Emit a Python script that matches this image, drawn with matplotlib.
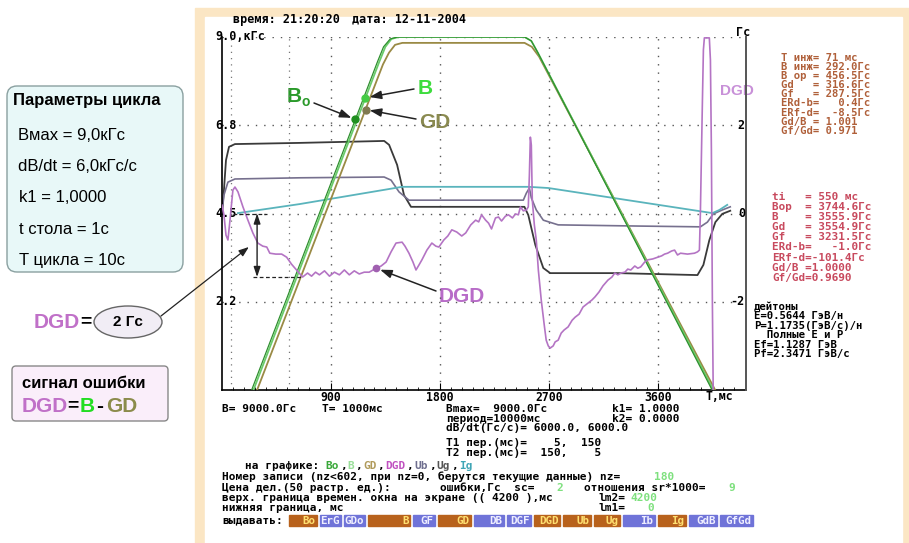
import numpy as np
import matplotlib
matplotlib.use("Agg")
from matplotlib import pyplot as plt
from matplotlib import transforms
from matplotlib.patches import Rectangle, FancyBboxPatch, Ellipse

# ---- field curves: t in ms, field in kGs
t_b = [260, 1300, 1350, 1400, 1460, 2500, 2556, 2610, 4060]
b_b = [0, 8.37, 8.75, 8.95, 9.0, 9.0, 8.9, 8.6, 0]
t_bo = [245, 1285, 1335, 1390, 1450, 2500, 2556, 2610, 4050]
b_bo = [0, 8.37, 8.75, 8.95, 9.0, 9.0, 8.9, 8.6, 0]
t_gd = [290, 1330, 1380, 1430, 1490, 2500, 2560, 2620, 4075]
b_gd = [0, 8.3, 8.6, 8.8, 8.85, 8.85, 8.75, 8.5, 0]

# ---- auxiliary signals drawn on the kGs scale
t_ub = [0, 16, 33, 58, 107, 641, 1340, 1381, 1447, 1504, 1562, 2121, 2499, 2531,
        2589, 2655, 2712, 3271, 3929, 3978, 4027, 4077, 4134, 4200]
ub = [4.51, 5.10, 5.86, 6.20, 6.27, 6.30, 6.35, 6.25, 5.74, 4.97, 4.67, 4.67, 4.67, 4.46,
      3.70, 3.11, 2.98, 2.98, 2.93, 3.19, 3.82, 4.28, 4.49, 4.57]
t_ug = [0, 16, 49, 107, 641, 1340, 1397, 1463, 1545, 2121, 2490, 2515, 2540, 2556,
        2597, 2655, 2778, 3436, 3953, 4011, 4060, 4134, 4200]
ug = [4.51, 4.97, 5.30, 5.38, 5.41, 5.43, 5.35, 5.05, 4.84, 4.84, 4.84, 5.02, 5.15, 4.90,
      4.59, 4.33, 4.21, 4.18, 4.16, 4.28, 4.49, 4.59, 4.67]
t_ig = [132, 641, 1488, 2532, 2696, 4052, 4110, 4175]
ig = [4.51, 4.74, 5.18, 5.18, 5.15, 4.51, 4.59, 4.72]

# ---- error signal DGD = B - GD, Gs (right scale)
t_dgd = [0, 16, 33, 49, 66, 90, 107, 132, 173, 214, 255, 296, 337, 370, 395, 444, 493, 534,
         575, 616, 666, 707, 740, 773, 805, 847, 888, 929, 970, 1011, 1052, 1093, 1134, 1175,
         1216, 1274, 1315, 1356, 1397, 1438, 1488, 1512, 1545, 1578, 1603, 1627, 1652, 1693,
         1734, 1767, 1792, 1833, 1866, 1899, 1940, 1981, 2014, 2055, 2096, 2121, 2145, 2178,
         2203, 2227, 2260, 2285, 2310, 2342, 2367, 2400, 2425, 2449, 2466, 2490, 2515, 2531,
         2540, 2548, 2556, 2564, 2581, 2597, 2614, 2638, 2663, 2679, 2696, 2712, 2737, 2753,
         2778, 2803, 2827, 2860, 2893, 2918, 2951, 2983, 3025, 3057, 3082, 3115, 3148, 3189,
         3222, 3246, 3271, 3296, 3329, 3353, 3378, 3411, 3436, 3460, 3493, 3518, 3559, 3600,
         3633, 3657, 3682, 3715, 3740, 3764, 3789, 3847, 3904, 3929, 3945, 3953, 3962, 3970,
         3978, 3986, 4027, 4036, 4044, 4052, 4060]
dgd = [0.19, -0.03, -0.49, -0.60, -0.15, 0.53, 0.60, 0.49, 0.15, -0.15, -0.44, -0.67, -0.74,
       -0.76, -0.90, -0.92, -0.92, -0.99, -1.15, -1.28, -1.44, -1.35, -1.42, -1.33, -1.39,
       -1.30, -1.42, -1.33, -1.39, -1.28, -1.39, -1.30, -1.37, -1.33, -1.33, -1.24, -1.19,
       -1.10, -0.87, -0.67, -0.65, -0.74, -0.90, -1.10, -1.28, -1.17, -1.05, -0.83, -0.67,
       -0.74, -0.76, -0.60, -0.51, -0.37, -0.42, -0.51, -0.44, -0.26, -0.15, -0.19, -0.03,
       -0.15, -0.22, -0.35, -0.10, -0.08, -0.17, -0.06, -0.03, -0.10, -0.01, -0.03, 0.15,
       0.06, 0.08, 0.15, 0.87, 1.73, 1.55, 0.31, -0.26, -0.60, -1.28, -1.96, -2.53, -2.87,
       -3.00, -3.05, -3.00, -2.91, -2.87, -2.71, -2.64, -2.57, -2.42, -2.35, -2.28, -2.12,
       -2.03, -1.96, -1.89, -1.78, -1.64, -1.51, -1.44, -1.35, -1.39, -1.35, -1.33, -1.26,
       -1.28, -1.19, -1.24, -1.21, -1.10, -1.05, -1.03, -0.99, -0.96, -0.92, -0.90, -0.85,
       -0.83, -0.94, -0.90, -0.92, -0.90, -0.87, -0.83, 0.01, 1.44, 2.57, 3.71, 3.98, 3.98,
       3.48, 1.44, -1.96, -4.3]

# marker levels on the rising edge
bo_level, b_level, gd_level = 6.9, 7.45, 7.15
dgd_mark_t = 1274

x_ticks = [900, 1800, 2700, 3600]
x_ticklabels = ["900", "1800", "2700", "3600"]
left_labels = ["2.2", "4.5", "6.8", "9.0,кГс"]
left_levels = [2.25, 4.5, 6.75, 9.0]
right_labels = ["-2", "0", "2"]
right_levels = [-2, 0, 2]

panel1 = ["T инж= 71 мс", "B инж= 292.0Гс", "B ор = 456.5Гс", "Gd   = 316.6Гс",
          "Gf   = 287.5Гс", "ERd-b=   0.4Гс", "ERf-d=  -8.5Гс", "Gd/B = 1.001", "Gf/Gd= 0.971"]
panel2 = ["ti   = 550 мс", "Bop  = 3744.6Гс", "B    = 3555.9Гс", "Gd   = 3554.9Гс",
          "Gf   = 3231.5Гс", "ERd-b=   -1.0Гс", "ERf-d=-101.4Гс", "Gd/B =1.0000", "Gf/Gd=0.9690"]
panel3 = ["дейтоны", "E=0.5644 ГэВ/н", "P=1.1735(ГэВ/с)/н", "  Полные E и P",
          "Ef=1.1287 ГэВ", "Pf=2.3471 ГэВ/с"]
cycle_params = ["Вмах = 9,0кГс", "dB/dt = 6,0кГс/с", "k1 = 1,0000", "t стола = 1с", "T цикла = 10с"]

on_graph = [("Bo", "#3aa83a"), ("B", "#9adf9a"), ("GD", "#b09a5a"), ("DGD", "#c050c0"),
            ("Ub", "#6f6f8f"), ("Ug", "#555555"), ("Ig", "#3fa5b5")]
buttons = ["Bo", "ErG", "GDo", "B", "GF", "GD", "DB", "DGF", "DGD", "Ub", "Ug", "Ib", "Ig", "GdB", "GfGd"]
button_kind = ["o", "b", "b", "o", "b", "o", "b", "b", "o", "o", "o", "b", "o", "b", "b"]
button_w = [28, 21, 21, 42, 22, 33, 30, 24, 26, 28, 26, 32, 28, 28, 33]

MONO = "DejaVu Sans Mono"
SANS = ["Liberation Sans", "DejaVu Sans"]
FS = 8.0

fig = plt.figure(figsize=(9.09, 5.43), dpi=100)
renderer = fig.canvas.get_renderer()
bg = fig.add_axes([0, 0, 1, 1])
bg.set_xlim(0, 909)
bg.set_ylim(543, 0)
bg.axis("off")

bg.add_patch(Rectangle((195, 8), 714, 535, color="#fbe6c4", zorder=0))
bg.add_patch(Rectangle((205, 17), 697, 526, color="white", zorder=0))


def dos(x, y, s, color="black", size=FS):
    return bg.text(x, y, s, color=color, fontsize=size, family=MONO, fontweight="bold",
                   va="center", ha="left")


def dos_seq(x, y, parts, gap=1.0):
    # place coloured pieces one after another, using the drawn width of each piece
    for s, c, pre in parts:
        t = dos(x + pre, y, s, c)
        bb = t.get_window_extent(renderer)
        x = bg.transData.inverted().transform((bb.x1, bb.y0))[0] + gap


# ---- main plot
ax = fig.add_axes([222 / 909, 1 - 390 / 543, 524 / 909, 353 / 543])
ax.set_xlim(0, 4330)
ax.set_ylim(0, 9)
ax.patch.set_alpha(0)
ax2 = ax.twinx()
ax2.set_ylim(-4, 4)

for s in ["top", "right"]:
    ax.spines[s].set_visible(False)
for s in ["top", "left", "bottom"]:
    ax2.spines[s].set_visible(False)
ax2.spines["right"].set_color("#555555")
ax2.spines["right"].set_linewidth(1.4)
ax.spines["left"].set_linewidth(1.2)
ax.spines["bottom"].set_linewidth(1.2)

ax.set_yticks([])
ax2.set_yticks([])
ax.set_xticks(x_ticks)
ax.set_xticklabels(x_ticklabels, family=MONO, fontweight="bold", fontsize=8.3)
ax.set_xticks(np.arange(90, 4330, 90), minor=True)
ax.tick_params(axis="x", which="major", direction="in", length=5, pad=0.5)
ax.tick_params(axis="x", which="minor", direction="in", length=2.5)

dots = (0, (1, 5))
for g in left_levels:
    ax.axhline(g, color="#555555", lw=1, ls=dots, zorder=1)
for g in x_ticks:
    ax.axvline(g, color="#555555", lw=1, ls=dots, zorder=1)
for g in [71, 550]:
    ax.axvline(g, color="#777777", lw=0.9, ls=(0, (1, 4)), zorder=1)

ax.plot(t_ub, ub, color="#3a3a3a", lw=1.3, zorder=2)
ax.plot(t_ug, ug, color="#76708e", lw=1.2, zorder=2)
ax.plot(t_ig, ig, color="#5ab4bc", lw=1.3, zorder=2)
ax.plot(t_gd, b_gd, color="#9a8a45", lw=1.3, zorder=3)
ax.plot(t_b, b_b, color="#6acc6a", lw=1.3, zorder=3)
ax.plot(t_bo, b_bo, color="#2f8f2f", lw=0.9, zorder=3)
ax2.plot(t_dgd, dgd, color="#b474c4", lw=1.2, zorder=3)

# markers on the curves
x_bo = np.interp(bo_level, b_bo[:4], t_bo[:4])
x_b = np.interp(b_level, b_b[:4], t_b[:4])
x_gd = np.interp(gd_level, b_gd[:4], t_gd[:4])
y_dm = np.interp(dgd_mark_t, t_dgd, dgd)
ax.plot([x_bo], [bo_level], "o", ms=5, color="#1f8f1f", zorder=5)
ax.plot([x_b], [b_level], "o", ms=5, color="#44cc44", zorder=5)
ax.plot([x_gd], [gd_level], "o", ms=5, color="#807a50", zorder=5)
ax2.plot([dgd_mark_t], [y_dm], "o", ms=4.5, color="#a060b0", zorder=5)

arrow = dict(arrowstyle="-|>,head_length=0.7,head_width=0.25", color="#222222", lw=1.1,
             shrinkA=0, shrinkB=3)
ax.annotate("", xy=(x_bo, bo_level), xytext=(314, 103), textcoords=bg.transData, arrowprops=arrow)
ax.annotate("", xy=(x_b, b_level), xytext=(414, 89), textcoords=bg.transData, arrowprops=arrow)
ax.annotate("", xy=(x_gd, gd_level), xytext=(416, 119), textcoords=bg.transData, arrowprops=arrow)
ax2.annotate("", xy=(dgd_mark_t, y_dm), xytext=(436, 291), textcoords=bg.transData, arrowprops=arrow)

bg.text(287, 96, "B", color="#2a9a2a", fontsize=15, family=SANS, fontweight="bold", va="center")
bg.text(302, 102, "o", color="#2a9a2a", fontsize=10, family=SANS, fontweight="bold", va="center")
bg.text(418, 88, "B", color="#3ddc3d", fontsize=15, family=SANS, fontweight="bold", va="center")
bg.text(419, 122, "GD", color="#8a8a50", fontsize=15, family=SANS, fontweight="bold", va="center")
bg.text(439, 296, "DGD", color="#b86cc8", fontsize=15, family=SANS, fontweight="bold", va="center")
bg.text(737, 91, "DGD", color="#c890d8", fontsize=11, family=SANS, fontweight="bold",
        va="center", ha="center")

# DGD amplitude marker
dgd_top = 0.0
dgd_bot = min(dgd[:36])
ax2.hlines(dgd_top, 90, 370, colors="#222222", lw=0.9, linestyles=(0, (3, 2)), zorder=4)
ax2.hlines(dgd_bot, 255, 666, colors="#222222", lw=0.9, linestyles=(0, (3, 2)), zorder=4)
ax2.annotate("", xy=(290, dgd_bot), xytext=(290, dgd_top),
             arrowprops=dict(arrowstyle="<|-|>,head_length=0.6,head_width=0.2", color="#222222",
                             lw=1.0, shrinkA=0, shrinkB=0))
bg.annotate("", xy=(240, (dgd_top + dgd_bot) / 2), xycoords=ax2.transData, xytext=(161, 316),
            textcoords=bg.transData,
            arrowprops=dict(arrowstyle="-|>,head_length=0.6,head_width=0.22", color="#222222",
                            lw=0.9, shrinkA=0, shrinkB=2))

# axis labels drawn as text, like the screen
tl = transforms.blended_transform_factory(bg.transData, ax.transData)
for lab, lev in zip(left_labels, left_levels):
    ax.text(215, lev, lab, transform=tl, family=MONO, fontweight="bold", fontsize=8.5,
            va="center", ha="left", zorder=6)
tr = transforms.blended_transform_factory(bg.transData, ax2.transData)
for lab, lev in zip(right_labels, right_levels):
    ax2.text(745, lev, lab, transform=tr, family=MONO, fontweight="bold", fontsize=8.5,
             va="center", ha="right", zorder=6)
dos(736, 32, "Гс", size=8.5)
dos(706, 397, "T,мс", size=8.3)

# header
dos(233, 19, "время: 21:20:20", size=8.5)
dos(352, 19, "дата: 12-11-2004", size=8.5)

# right-hand readouts
for i, s in enumerate(panel1):
    dos(781, 58 + 9.1 * i, s, "#b0603a", size=7.6)
for i, s in enumerate(panel2):
    dos(772, 197 + 10.1 * i, s, "#c84a5e", size=7.9)
for i, s in enumerate(panel3):
    dos(754, 307 + 9.4 * i, s, size=7.7)

# bottom status text
dos(222, 409, "B= 9000.0Гс")
dos(322, 409, "T= 1000мс")
dos(446, 409, "Bmax=  9000.0Гс")
dos(612, 409, "k1= 1.0000")
dos(446, 418.5, "период=10000мс")
dos(612, 418.5, "k2= 0.0000")
dos(446, 428, "dB/dt(Гс/с)= 6000.0, 6000.0")
dos(446, 443, "T1 пер.(мс)=    5,  150")
dos(446, 453, "T2 пер.(мс)=  150,    5")

parts = [("на графике:", "black", 0)]
for k, (name, col) in enumerate(on_graph):
    parts.append((name, col, 5 if k == 0 else 0))
    if k < len(on_graph) - 1:
        parts.append((",", "black", 0))
dos_seq(245, 466, parts)

green = "#7ee07e"
dos(222, 477, "Номер записи (nz<602, при nz=0, берутся текущие данные) nz=")
dos(654, 477, "180", green)
dos(222, 488, "Цена дел.(50 растр. ед.):")
dos(440, 488, "ошибки,Гс  sc=")
dos(556, 488, "2", green)
dos(584, 488, "отношения sr*1000=")
dos(728, 488, "9", green)
dos(222, 498, "верх. граница времен. окна на экране (( 4200 ),мс")
dos(598, 498, "lm2=")
dos(630, 498, "4200", green)
dos(222, 508, "нижняя граница, мс")
dos(598, 508, "lm1=")
dos(647, 508, "0", green)
dos(222, 520, "выдавать:")

bx = 289
for name, kind, w in zip(buttons, button_kind, button_w):
    fc = "#b8621c" if kind == "o" else "#6f73d8"
    tc = "#ffe070" if kind == "o" else "#eeeeff"
    bg.add_patch(Rectangle((bx, 514.5), w, 11.5, color=fc, zorder=2))
    bg.text(bx + w - 1.5, 520.5, name, color=tc, fontsize=7.8, family=MONO, fontweight="bold",
            va="center", ha="right", zorder=3)
    bx += w + 3

# ---- left side explanatory boxes
bg.add_patch(FancyBboxPatch((7, 86), 176, 186, boxstyle="round,pad=0,rounding_size=10",
                            fc="#e8f8f8", ec="#8aa0a0", lw=1.0, zorder=1))
bg.text(13, 101, "Параметры цикла", fontsize=12, family=SANS, fontweight="bold", va="center")
for i, s in enumerate(cycle_params):
    bg.text(18 if i < 2 else 19, 135 + 31.5 * i, s, fontsize=12, family=SANS, va="center")

bg.add_patch(Ellipse((128, 322), 68, 32, fc="#f1edf5", ec="#666666", lw=1.0, zorder=1))
bg.text(128, 322, "2 Гс", fontsize=11, family=SANS, fontweight="bold", ha="center", va="center")
bg.text(34, 322, "DGD", color="#c070c8", fontsize=15, family=SANS, fontweight="bold", va="center")
bg.text(80, 322, "=", fontsize=14, family=SANS, fontweight="bold", va="center")

bg.add_patch(FancyBboxPatch((12, 366), 156, 55, boxstyle="round,pad=0,rounding_size=4",
                            fc="#faeefa", ec="#888888", lw=1.0, zorder=1))
bg.text(22, 383, "сигнал ошибки", fontsize=12, family=SANS, fontweight="bold", va="center")
bg.text(22, 406, "DGD", color="#c070c8", fontsize=15, family=SANS, fontweight="bold", va="center")
bg.text(67, 406, "=", fontsize=14, family=SANS, fontweight="bold", va="center")
bg.text(80, 406, "B", color="#22dd22", fontsize=15, family=SANS, fontweight="bold", va="center")
bg.text(96, 406, "-", fontsize=15, family=SANS, fontweight="bold", va="center")
bg.text(106, 406, "GD", color="#8b8b4b", fontsize=15, family=SANS, fontweight="bold", va="center")

fig.savefig("out.png", dpi=100)
